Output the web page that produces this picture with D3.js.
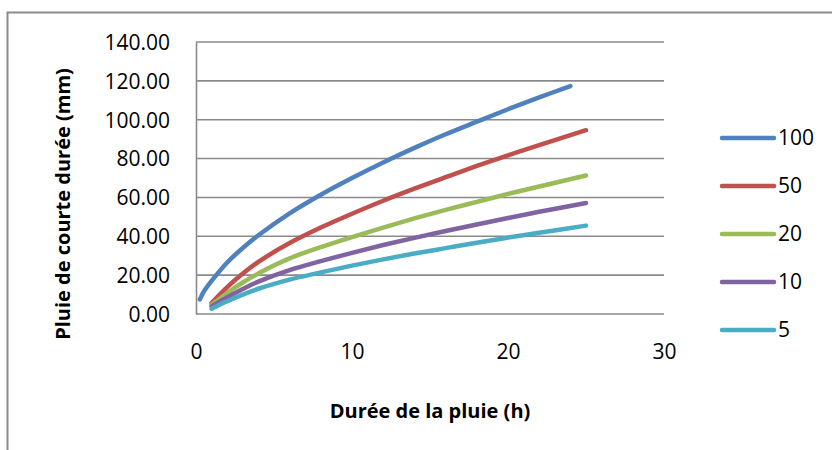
<!DOCTYPE html>
<html>
<head>
<meta charset="utf-8">
<script src="https://cdn.jsdelivr.net/npm/d3@7"></script>
<style>
  body { margin: 0; background: #fff; }
  text { font-family: "Open Sans", "Noto Sans", sans-serif; fill: #000; }
</style>
</head>
<body>
<div id="chart"></div>
<script>
// return periods (years) shown in the legend
const periods = ["100", "50", "20", "10", "5"];
const colors = ["#4F81BD", "#C0504D", "#9BBB59", "#8064A2", "#4BACC6"];

// duration (h)
const t100 = [0.25, 0.5, 1, 2, 3, 4, 6, 8, 10, 12, 14, 16, 18, 20, 22, 24];
const tOther = [1, 2, 3, 4, 6, 8, 10, 12, 14, 16, 18, 20, 22, 25];

// rainfall (mm)
const p100 = [7.5, 11.5, 17, 26.5, 34, 40.5, 51.8, 61.4, 70, 78, 85.5, 92.5, 99, 105.4, 111.5, 117.3];
const p50 = [5.6, 13.8, 20.8, 26.8, 36.5, 44.5, 51.6, 58.3, 64.5, 70.4, 76.2, 81.7, 86.9, 94.6];
const p20 = [4.7, 10.8, 16.2, 20.9, 28.6, 34.4, 39.6, 44.5, 49.2, 53.6, 57.7, 61.8, 65.6, 71.3];
const p10 = [3.9, 8.6, 12.9, 16.7, 22.6, 27.2, 31.5, 35.5, 39.2, 42.7, 46.1, 49.4, 52.6, 57.1];
const p5 = [2.7, 6.6, 10.0, 13.0, 17.7, 21.4, 24.9, 28.1, 31.1, 33.9, 36.7, 39.3, 41.8, 45.5];

const yTicks = [0, 20, 40, 60, 80, 100, 120, 140];
const xTicks = [0, 10, 20, 30];

const series = [
  {name: periods[0], t: t100, p: p100},
  {name: periods[1], t: tOther, p: p50},
  {name: periods[2], t: tOther, p: p20},
  {name: periods[3], t: tOther, p: p10},
  {name: periods[4], t: tOther, p: p5}
];

const W = 832, H = 450;
const margin = {top: 42, right: 168, bottom: 136, left: 196},
  width = W - margin.left - margin.right,
  height = H - margin.top - margin.bottom;

const svg = d3.select("#chart")
  .append("svg")
    .attr("width", W)
    .attr("height", H);

// outer chart frame
svg.append("rect")
  .attr("x", 7.5).attr("y", 12.5)
  .attr("width", 900).attr("height", 600)
  .attr("fill", "none")
  .attr("stroke", "#8c8c8c")
  .attr("stroke-width", 2);

const g = svg.append("g")
  .attr("transform", `translate(${margin.left},${margin.top})`);

const x = d3.scaleLinear().domain([0, 30]).range([0, width]);
const y = d3.scaleLinear().domain([0, 140]).range([height, 0]);

// gridlines
g.selectAll(".grid")
  .data(yTicks)
  .join("line")
    .attr("x1", 0).attr("x2", width)
    .attr("y1", d => y(d)).attr("y2", d => y(d))
    .attr("stroke", "#8a8a8a")
    .attr("stroke-width", 1.6);

// y axis
const yAxis = g.append("g")
  .call(d3.axisLeft(y).tickValues(yTicks).tickFormat(d3.format(".2f")).tickSize(0).tickPadding(26));
yAxis.select(".domain").attr("stroke", "#8a8a8a").attr("stroke-width", 1.6);
yAxis.selectAll("text").style("font-size", "21px").attr("dy", "0.35em");

// x axis
const xAxis = g.append("g")
  .attr("transform", `translate(0,${height})`)
  .call(d3.axisBottom(x).tickValues(xTicks).tickSize(0).tickPadding(30));
xAxis.select(".domain").remove();
xAxis.selectAll("text").style("font-size", "21px");

// curves
const line = d3.line()
  .x(d => x(d[0]))
  .y(d => y(d[1]))
  .curve(d3.curveCatmullRom.alpha(0.5));

g.selectAll(".curve")
  .data(series)
  .join("path")
    .attr("d", d => line(d.t.map((v, i) => [v, d.p[i]])))
    .attr("fill", "none")
    .attr("stroke", (d, i) => colors[i])
    .attr("stroke-width", 4.5)
    .attr("stroke-linecap", "round");

// axis titles
svg.append("text")
  .attr("transform", "translate(70,204) rotate(-90)")
  .attr("text-anchor", "middle")
  .style("font-size", "20px")
  .style("font-weight", "bold")
  .text("Pluie de courte durée (mm)");

svg.append("text")
  .attr("x", 430).attr("y", 418)
  .attr("text-anchor", "middle")
  .style("font-size", "20px")
  .style("font-weight", "bold")
  .text("Durée de la pluie (h)");

// legend
const legend = svg.append("g").attr("transform", "translate(720,138)");
const item = legend.selectAll(".item")
  .data(periods)
  .join("g")
    .attr("transform", (d, i) => `translate(0,${i * 48})`);
item.append("line")
  .attr("x1", 2).attr("x2", 54)
  .attr("stroke", (d, i) => colors[i])
  .attr("stroke-width", 4.5)
  .attr("stroke-linecap", "round");
item.append("text")
  .attr("x", 58).attr("dy", "0.35em")
  .style("font-size", "21px")
  .text(d => d);
</script>
</body>
</html>
